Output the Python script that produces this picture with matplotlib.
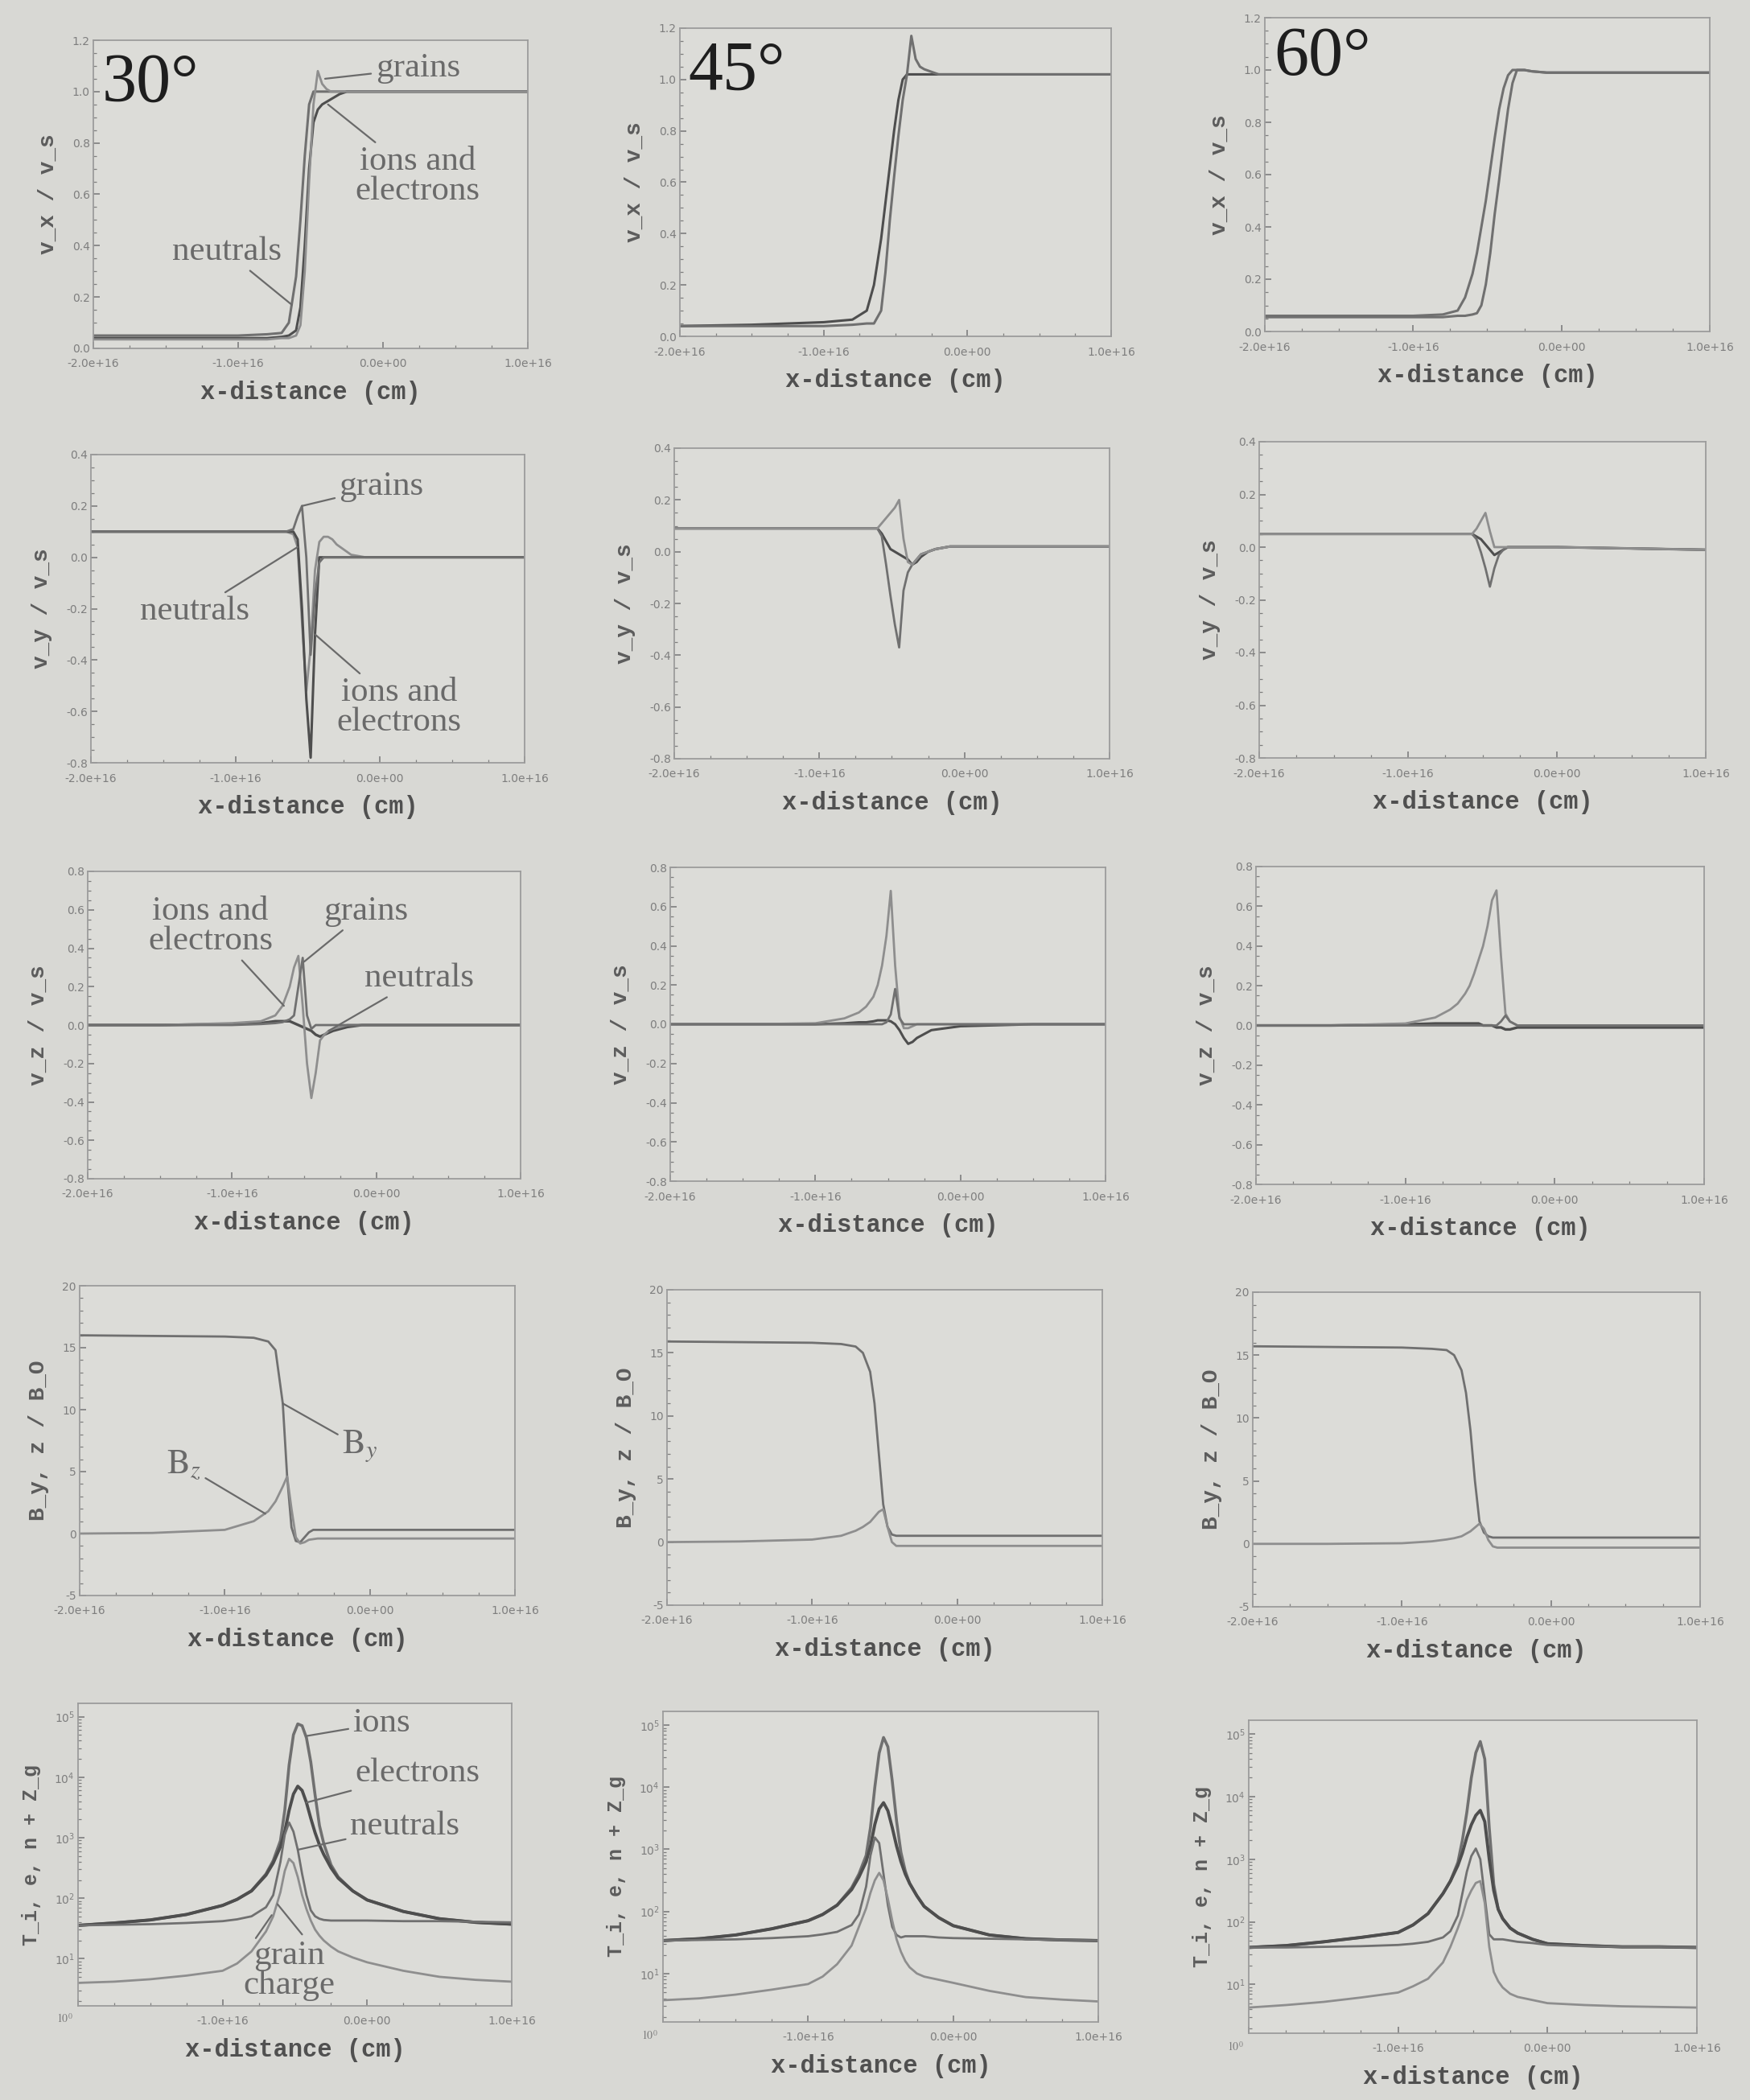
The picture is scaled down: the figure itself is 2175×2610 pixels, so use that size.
import numpy as np
import matplotlib
matplotlib.use('Agg')
import matplotlib.pyplot as plt
import matplotlib.transforms as mtransforms
from matplotlib.ticker import MultipleLocator, FixedLocator, FuncFormatter, LogLocator, NullFormatter

plt.rcParams['mathtext.fontset'] = 'stix'
plt.rcParams['axes.unicode_minus'] = False


# x positions of the sampled points, in units of 1e16 cm (rows 1-4)
x_pts = [-2.0, -1.5, -1.0, -0.8, -0.7, -0.65, -0.6, -0.57, -0.54, -0.51, -0.48, -0.45,
         -0.42, -0.39, -0.36, -0.33, -0.3, -0.25, -0.2, -0.1, 0.0, 0.5, 1.0]
# finer sampling for the log-scale bottom row
x_pts_T = [-2.0, -1.75, -1.5, -1.25, -1.0, -0.9, -0.8, -0.7, -0.65, -0.6, -0.57, -0.54, -0.51, -0.48,
           -0.45, -0.42, -0.39, -0.36, -0.33, -0.3, -0.25, -0.2, -0.1, 0.0, 0.25, 0.5, 0.75, 1.0]

angle_labels = ['30°', '45°', '60°']
x_ticks = [-2.0, -1.0, 0.0, 1.0]
y_titles = ['v_x / v_s', 'v_y / v_s', 'v_z / v_s', 'B_y, z / B_O', 'T_i, e, n + Z_g']


# ---- row 1 : v_x / v_s
vx30_neutrals = [0.05, 0.05, 0.05, 0.055, 0.06, 0.10, 0.28, 0.50, 0.75, 0.95, 1.0, 1.0, 1.0, 1.0, 1.0, 1.0, 1.0, 1.0, 1.0, 1.0, 1.0, 1.0, 1.0]
vx30_ions = [0.04, 0.04, 0.04, 0.04, 0.045, 0.05, 0.07, 0.16, 0.40, 0.70, 0.88, 0.93, 0.95, 0.96, 0.97, 0.98, 0.99, 1.0, 1.0, 1.0, 1.0, 1.0, 1.0]
vx30_grains = [0.035, 0.035, 0.035, 0.035, 0.04, 0.04, 0.05, 0.09, 0.30, 0.65, 0.95, 1.08, 1.03, 1.01, 1.0, 1.0, 1.0, 1.0, 1.0, 1.0, 1.0, 1.0, 1.0]

vx45_neutrals = [0.04, 0.045, 0.055, 0.065, 0.10, 0.20, 0.38, 0.52, 0.66, 0.80, 0.92, 1.0, 1.02, 1.02, 1.02, 1.02, 1.02, 1.02, 1.02, 1.02, 1.02, 1.02, 1.02]
vx45_charged = [0.04, 0.04, 0.04, 0.045, 0.05, 0.05, 0.10, 0.25, 0.45, 0.62, 0.78, 0.92, 1.02, 1.17, 1.08, 1.05, 1.04, 1.03, 1.02, 1.02, 1.02, 1.02, 1.02]

vx60_neutrals = [0.06, 0.06, 0.06, 0.065, 0.08, 0.13, 0.22, 0.30, 0.40, 0.50, 0.62, 0.74, 0.85, 0.93, 0.98, 1.0, 1.0, 1.0, 0.995, 0.99, 0.99, 0.99, 0.99]
vx60_charged = [0.055, 0.055, 0.055, 0.055, 0.06, 0.06, 0.065, 0.07, 0.10, 0.18, 0.30, 0.45, 0.58, 0.72, 0.85, 0.95, 1.0, 1.0, 0.995, 0.99, 0.99, 0.99, 0.99]

# ---- row 2 : v_y / v_s
vy30_neutrals = [0.10, 0.10, 0.10, 0.10, 0.10, 0.10, 0.09, 0.04, -0.25, -0.52, -0.35, -0.05, 0.06, 0.08, 0.08, 0.07, 0.05, 0.03, 0.01, 0.0, 0.0, 0.0, 0.0]
vy30_ions = [0.10, 0.10, 0.10, 0.10, 0.10, 0.10, 0.10, 0.07, -0.20, -0.55, -0.78, -0.30, 0.0, 0.0, 0.0, 0.0, 0.0, 0.0, 0.0, 0.0, 0.0, 0.0, 0.0]
vy30_grains = [0.10, 0.10, 0.10, 0.10, 0.10, 0.10, 0.11, 0.16, 0.20, 0.0, -0.38, -0.15, -0.02, 0.0, 0.0, 0.0, 0.0, 0.0, 0.0, 0.0, 0.0, 0.0, 0.0]

vy45_neutrals = [0.09, 0.09, 0.09, 0.09, 0.09, 0.09, 0.09, 0.07, 0.04, 0.01, 0.0, -0.01, -0.02, -0.03, -0.05, -0.04, -0.02, 0.0, 0.01, 0.02, 0.02, 0.02, 0.02]
vy45_ions = [0.09, 0.09, 0.09, 0.09, 0.09, 0.09, 0.09, 0.06, -0.05, -0.17, -0.28, -0.37, -0.15, -0.08, -0.05, -0.03, -0.01, 0.0, 0.01, 0.02, 0.02, 0.02, 0.02]
vy45_grains = [0.09, 0.09, 0.09, 0.09, 0.09, 0.09, 0.09, 0.11, 0.13, 0.15, 0.17, 0.20, 0.05, -0.04, -0.05, -0.03, -0.01, 0.0, 0.01, 0.02, 0.02, 0.02, 0.02]

vy60_neutrals = [0.05, 0.05, 0.05, 0.05, 0.05, 0.05, 0.05, 0.05, 0.04, 0.03, 0.01, -0.01, -0.03, -0.02, -0.01, 0.0, 0.0, 0.0, 0.0, 0.0, 0.0, -0.005, -0.01]
vy60_ions = [0.05, 0.05, 0.05, 0.05, 0.05, 0.05, 0.05, 0.05, 0.03, -0.02, -0.08, -0.15, -0.08, -0.03, -0.01, 0.0, 0.0, 0.0, 0.0, 0.0, 0.0, -0.005, -0.01]
vy60_grains = [0.05, 0.05, 0.05, 0.05, 0.05, 0.05, 0.05, 0.05, 0.07, 0.10, 0.13, 0.06, 0.0, 0.0, 0.0, 0.0, 0.0, 0.0, 0.0, 0.0, 0.0, -0.005, -0.01]

# ---- row 3 : v_z / v_s
vz30_ions = [0.0, 0.0, 0.01, 0.02, 0.05, 0.10, 0.20, 0.30, 0.36, 0.10, -0.20, -0.38, -0.25, -0.08, -0.05, -0.03, -0.02, -0.01, 0.0, 0.0, 0.0, 0.0, 0.0]
vz30_grains = [0.0, 0.0, 0.0, 0.005, 0.01, 0.015, 0.03, 0.05, 0.20, 0.35, 0.05, -0.02, 0.0, 0.0, 0.0, 0.0, 0.0, 0.0, 0.0, 0.0, 0.0, 0.0, 0.0]
vz30_neutrals = [0.0, 0.0, 0.005, 0.01, 0.02, 0.02, 0.02, 0.01, 0.0, -0.01, -0.02, -0.03, -0.05, -0.06, -0.05, -0.04, -0.03, -0.02, -0.01, 0.0, 0.0, 0.0, 0.0]

vz45_ions = [0.0, 0.0, 0.005, 0.03, 0.06, 0.09, 0.14, 0.20, 0.30, 0.45, 0.68, 0.30, 0.04, -0.02, -0.02, -0.01, 0.0, 0.0, 0.0, 0.0, 0.0, 0.0, 0.0]
vz45_grains = [0.0, 0.0, 0.0, 0.0, 0.0, 0.0, 0.0, 0.0, 0.0, 0.01, 0.05, 0.18, 0.03, 0.0, 0.0, 0.0, 0.0, 0.0, 0.0, 0.0, 0.0, 0.0, 0.0]
vz45_neutrals = [0.0, 0.0, 0.0, 0.005, 0.01, 0.01, 0.015, 0.02, 0.02, 0.02, 0.015, 0.0, -0.03, -0.07, -0.10, -0.09, -0.07, -0.05, -0.03, -0.02, -0.01, 0.0, 0.0]

vz60_ions = [0.0, 0.0, 0.01, 0.04, 0.08, 0.11, 0.16, 0.20, 0.26, 0.33, 0.40, 0.50, 0.63, 0.68, 0.35, 0.06, 0.02, 0.0, 0.0, 0.0, 0.0, 0.0, 0.0]
vz60_grains = [0.0, 0.0, 0.0, 0.0, 0.0, 0.0, 0.0, 0.0, 0.0, 0.0, 0.0, 0.0, 0.0, 0.0, 0.02, 0.05, 0.02, 0.0, 0.0, 0.0, 0.0, 0.0, 0.0]
vz60_neutrals = [0.0, 0.0, 0.005, 0.01, 0.01, 0.01, 0.01, 0.01, 0.01, 0.01, 0.0, 0.0, 0.0, -0.01, -0.01, -0.02, -0.02, -0.01, -0.01, -0.01, -0.01, -0.01, -0.01]

# ---- row 4 : B_y, B_z / B_0
B30_y = [16.0, 15.95, 15.9, 15.8, 15.5, 14.8, 10.5, 4.6, 0.5, -0.6, -0.7, -0.3, 0.1, 0.3, 0.3, 0.3, 0.3, 0.3, 0.3, 0.3, 0.3, 0.3, 0.3]
B30_z = [0.0, 0.05, 0.3, 1.0, 1.8, 2.6, 3.8, 4.6, 2.0, -0.3, -0.8, -0.7, -0.5, -0.45, -0.4, -0.4, -0.4, -0.4, -0.4, -0.4, -0.4, -0.4, -0.4]

B45_y = [15.9, 15.85, 15.8, 15.7, 15.5, 15.0, 13.5, 11.0, 7.0, 3.0, 1.2, 0.6, 0.5, 0.5, 0.5, 0.5, 0.5, 0.5, 0.5, 0.5, 0.5, 0.5, 0.5]
B45_z = [0.0, 0.05, 0.2, 0.5, 0.9, 1.2, 1.6, 2.0, 2.4, 2.6, 1.2, 0.0, -0.3, -0.3, -0.3, -0.3, -0.3, -0.3, -0.3, -0.3, -0.3, -0.3, -0.3]

B60_y = [15.7, 15.65, 15.6, 15.5, 15.4, 15.0, 13.8, 12.0, 9.0, 5.0, 1.8, 0.9, 0.6, 0.5, 0.5, 0.5, 0.5, 0.5, 0.5, 0.5, 0.5, 0.5, 0.5]
B60_z = [0.0, 0.0, 0.05, 0.2, 0.35, 0.45, 0.6, 0.8, 1.0, 1.3, 1.6, 1.2, 0.3, -0.2, -0.3, -0.3, -0.3, -0.3, -0.3, -0.3, -0.3, -0.3, -0.3]

# ---- row 5 : temperatures and grain charge, given as log10 of the value (on x_pts_T)
T30_ions = [1.55, 1.59, 1.64, 1.73, 1.88, 1.98, 2.12, 2.4, 2.62, 2.95, 3.45, 4.2, 4.7, 4.88, 4.85, 4.65, 4.25, 3.7, 3.2, 2.9, 2.55, 2.35, 2.12, 1.97, 1.78, 1.66, 1.6, 1.57]
T30_electrons = [1.55, 1.59, 1.64, 1.73, 1.88, 1.98, 2.12, 2.38, 2.58, 2.85, 3.1, 3.45, 3.72, 3.85, 3.78, 3.58, 3.32, 3.08, 2.88, 2.72, 2.5, 2.33, 2.12, 1.97, 1.78, 1.66, 1.6, 1.57]
T30_neutrals = [1.55, 1.56, 1.57, 1.59, 1.62, 1.65, 1.7, 1.85, 2.05, 2.6, 3.05, 3.25, 3.1, 2.8, 2.4, 2.05, 1.8, 1.7, 1.66, 1.64, 1.63, 1.63, 1.63, 1.63, 1.62, 1.62, 1.61, 1.6]
Zg30 = [0.6, 0.62, 0.66, 0.72, 0.8, 0.92, 1.12, 1.45, 1.7, 2.1, 2.45, 2.65, 2.58, 2.35, 2.05, 1.82, 1.63, 1.48, 1.38, 1.3, 1.2, 1.12, 1.02, 0.94, 0.8, 0.7, 0.65, 0.62]

T45_ions = [1.53, 1.56, 1.62, 1.72, 1.85, 1.95, 2.1, 2.38, 2.6, 2.9, 3.35, 4.0, 4.55, 4.8, 4.65, 4.1, 3.45, 2.95, 2.65, 2.45, 2.25, 2.08, 1.9, 1.77, 1.62, 1.56, 1.54, 1.53]
T45_electrons = [1.53, 1.56, 1.62, 1.72, 1.85, 1.95, 2.1, 2.35, 2.55, 2.8, 3.05, 3.4, 3.65, 3.75, 3.62, 3.35, 3.05, 2.8, 2.6, 2.45, 2.25, 2.08, 1.9, 1.77, 1.62, 1.56, 1.54, 1.53]
T45_neutrals = [1.53, 1.54, 1.55, 1.57, 1.6, 1.63, 1.67, 1.78, 1.95, 2.4, 2.9, 3.19, 3.1, 2.6, 2.1, 1.75, 1.62, 1.58, 1.6, 1.6, 1.6, 1.6, 1.58, 1.57, 1.56, 1.55, 1.54, 1.53]
Zg45 = [0.57, 0.6, 0.66, 0.74, 0.83, 0.95, 1.15, 1.45, 1.75, 2.05, 2.3, 2.5, 2.62, 2.5, 2.2, 1.85, 1.55, 1.35, 1.2, 1.1, 1.0, 0.95, 0.9, 0.85, 0.72, 0.62, 0.58, 0.55]

T60_ions = [1.59, 1.62, 1.68, 1.75, 1.83, 1.95, 2.13, 2.45, 2.65, 2.95, 3.3, 3.75, 4.3, 4.7, 4.88, 4.6, 3.5, 2.6, 2.2, 2.05, 1.9, 1.82, 1.72, 1.65, 1.62, 1.6, 1.6, 1.59]
T60_electrons = [1.59, 1.62, 1.68, 1.75, 1.83, 1.95, 2.13, 2.45, 2.65, 2.9, 3.1, 3.35, 3.55, 3.7, 3.78, 3.6, 3.0, 2.5, 2.2, 2.05, 1.9, 1.82, 1.72, 1.65, 1.62, 1.6, 1.6, 1.59]
T60_neutrals = [1.59, 1.59, 1.6, 1.61, 1.63, 1.65, 1.68, 1.75, 1.85, 2.1, 2.45, 2.8, 3.05, 3.17, 3.0, 2.4, 1.8, 1.72, 1.72, 1.72, 1.7, 1.68, 1.66, 1.63, 1.61, 1.6, 1.6, 1.59]
Zg60 = [0.63, 0.67, 0.72, 0.79, 0.87, 0.97, 1.09, 1.35, 1.6, 1.9, 2.1, 2.35, 2.5, 2.62, 2.65, 2.3, 1.6, 1.2, 1.05, 0.95, 0.85, 0.8, 0.75, 0.7, 0.67, 0.65, 0.64, 0.63]


# colours of the scanned page
bg = '#d8d8d4'
bg_ax = '#dcdcd8'
c_dark = '#4e4e4e'
c_mid = '#707070'
c_light = '#8e8e8e'
ann_col = '#6a6a6a'
tick_col = '#7e7e7e'

# which curves go into which panel: (values, colour, width)
curves = {
    (0, 0): [(vx30_neutrals, c_mid, 2.2), (vx30_ions, c_dark, 2.2), (vx30_grains, c_light, 2.0)],
    (0, 1): [(vx45_neutrals, c_dark, 2.2), (vx45_charged, c_mid, 2.2)],
    (0, 2): [(vx60_neutrals, c_mid, 2.2), (vx60_charged, c_mid, 2.2)],
    (1, 0): [(vy30_neutrals, c_light, 2.0), (vy30_ions, c_dark, 2.2), (vy30_grains, c_mid, 2.0)],
    (1, 1): [(vy45_neutrals, c_dark, 2.2), (vy45_ions, c_mid, 2.0), (vy45_grains, c_light, 2.0)],
    (1, 2): [(vy60_neutrals, c_dark, 2.2), (vy60_ions, c_mid, 2.0), (vy60_grains, c_light, 2.0)],
    (2, 0): [(vz30_neutrals, c_dark, 2.4), (vz30_ions, c_light, 2.0), (vz30_grains, c_mid, 2.0)],
    (2, 1): [(vz45_neutrals, c_dark, 2.2), (vz45_ions, c_light, 2.0), (vz45_grains, c_mid, 2.0)],
    (2, 2): [(vz60_neutrals, c_dark, 2.4), (vz60_ions, c_light, 2.0), (vz60_grains, c_mid, 2.0)],
    (3, 0): [(B30_y, c_mid, 2.0), (B30_z, c_light, 2.0)],
    (3, 1): [(B45_y, c_mid, 2.0), (B45_z, c_light, 2.0)],
    (3, 2): [(B60_y, c_mid, 2.0), (B60_z, c_light, 2.0)],
    (4, 0): [(T30_ions, c_mid, 2.6), (T30_electrons, c_dark, 2.8), (T30_neutrals, c_mid, 2.0), (Zg30, c_light, 2.0)],
    (4, 1): [(T45_ions, c_mid, 2.6), (T45_electrons, c_dark, 2.8), (T45_neutrals, c_mid, 2.0), (Zg45, c_light, 2.0)],
    (4, 2): [(T60_ions, c_mid, 2.6), (T60_electrons, c_dark, 2.8), (T60_neutrals, c_mid, 2.0), (Zg60, c_light, 2.0)],
}

# curve labels of the 30 degree column: text, text centre, leader tip
labels30 = {
    0: [('grains', (0.24, 1.09), (-0.40, 1.05)),
        ('ions and\nelectrons', (0.24, 0.67), (-0.38, 0.95)),
        ('neutrals', (-1.08, 0.377), (-0.63, 0.17))],
    1: [('grains', (0.01, 0.274), (-0.54, 0.2)),
        ('neutrals', (-1.28, -0.21), (-0.57, 0.04)),
        ('ions and\nelectrons', (0.13, -0.585), (-0.45, -0.3))],
    2: [('ions and\nelectrons', (-1.15, 0.515), (-0.64, 0.1)),
        ('grains', (-0.07, 0.593), (-0.5, 0.33)),
        ('neutrals', (0.3, 0.243), (-0.33, -0.03))],
    3: [(r'$\mathrm{B}_y$', (-0.07, 7.0), (-0.6, 10.5)),
        (r'$\mathrm{B}_z$', (-1.28, 5.5), (-0.72, 1.6))],
    4: [('ions', (0.1, 4.89), (-0.42, 4.68)),
        ('electrons', (0.35, 4.07), (-0.42, 3.58)),
        ('neutrals', (0.26, 3.19), (-0.48, 2.8))],
}

# axes boxes on the page in pixels: left, top, right, bottom
W, H = 2175, 2610
panel_boxes = [
    [(116, 50, 656, 433), (845, 35, 1381, 418), (1572, 22, 2125, 412)],
    [(113, 565, 652, 948), (838, 557, 1379, 943), (1565, 549, 2120, 942)],
    [(109, 1083, 647, 1465), (833, 1078, 1374, 1468), (1561, 1077, 2118, 1472)],
    [(99, 1598, 640, 1983), (829, 1603, 1370, 1995), (1557, 1606, 2113, 1997)],
    [(97, 2117, 636, 2493), (824, 2127, 1365, 2513), (1552, 2138, 2109, 2527)],
]
angle_y = [0.96, 0.96, 0.975]

ylims = [(0, 1.2), (-0.8, 0.4), (-0.8, 0.8), (-5, 20), (10 ** 0.22, 10 ** 5.22)]
ysteps = [0.2, 0.2, 0.2, 5, None]
yminor = [0.05, 0.05, 0.05, 1, None]

xfmt = FuncFormatter(lambda v, p: '%.1e' % (v * 1e16))
xfmt_log = FuncFormatter(lambda v, p: '' if v < -1.5 else '%.1e' % (v * 1e16))
vfmt = FuncFormatter(lambda v, p: '%.1f' % (round(v, 1) + 0.0))
bfmt = FuncFormatter(lambda v, p: '%d' % round(v))

fig = plt.figure(figsize=(W / 100, H / 100), dpi=100, facecolor=bg)

for r in range(5):
    for c in range(3):
        l, t, rr, b = panel_boxes[r][c]
        ax = fig.add_axes([l / W, 1 - b / H, (rr - l) / W, (b - t) / H])
        ax.set_facecolor(bg_ax)

        for vals, col, lw in curves[(r, c)]:
            y = np.array(vals)
            xs = x_pts
            if r == 4:
                y = 10 ** y
                xs = x_pts_T
            ax.plot(xs, y, color=col, lw=lw, solid_joinstyle='round')

        ax.set_xlim(-2, 1)
        ax.set_ylim(*ylims[r])
        ax.xaxis.set_major_locator(FixedLocator(x_ticks))
        ax.xaxis.set_minor_locator(MultipleLocator(0.25))
        if r == 4:
            ax.set_yscale('log')
            ax.yaxis.set_major_locator(LogLocator(base=10, numticks=10))
            ax.yaxis.set_minor_formatter(NullFormatter())
            ax.xaxis.set_major_formatter(xfmt_log)
            # lowest decade label sits just under the frame
            trans = mtransforms.blended_transform_factory(ax.transAxes, ax.transData)
            ax.text(-0.012, 1.0, r'$10^{0}$', transform=trans, ha='right', va='center',
                    fontsize=10, color=tick_col, clip_on=False)
        else:
            ax.yaxis.set_major_locator(MultipleLocator(ysteps[r]))
            ax.yaxis.set_minor_locator(MultipleLocator(yminor[r]))
            ax.yaxis.set_major_formatter(bfmt if r == 3 else vfmt)
            ax.xaxis.set_major_formatter(xfmt)

        ax.tick_params(which='both', direction='in', colors=tick_col, labelsize=10)
        ax.tick_params(which='major', length=6, width=1.2)
        ax.tick_params(which='minor', length=3, width=0.9)
        ax.tick_params(axis='x', pad=9)
        ax.tick_params(axis='y', pad=3)
        for sp in ax.spines.values():
            sp.set_color('#9c9c9c')
            sp.set_linewidth(1.3)

        ax.set_xlabel('x-distance (cm)', fontsize=22, fontweight='bold', family='Liberation Mono',
                      color='#505050', labelpad=10)
        ax.set_ylabel(y_titles[r], fontsize=18 if r == 4 else 20, fontweight='bold',
                      family='Liberation Mono', color='#5c5c5c', labelpad=12)

        if r == 0:
            ax.text(0.02, angle_y[c], angle_labels[c], transform=ax.transAxes, fontsize=62,
                    family='Liberation Serif', color='#1e1e1e', ha='left', va='top')

        # curve labels with leader lines, only in the 30 degree column
        if c == 0:
            for txt, (tx, ty), (px, py) in labels30[r]:
                if r == 4:
                    ty, py = 10 ** ty, 10 ** py
                ax.annotate(txt, xy=(px, py), xytext=(tx, ty), ha='center', va='center',
                            fontsize=31, family='Liberation Serif', color=ann_col, linespacing=0.95,
                            arrowprops=dict(arrowstyle='-', color=ann_col, lw=1.6,
                                            shrinkA=2, shrinkB=0))
            if r == 4:
                ax.annotate('grain\ncharge', xy=(-0.66, 10 ** 1.72), xytext=(-0.54, 10 ** 0.8),
                            ha='center', va='center', fontsize=31, family='Liberation Serif',
                            color=ann_col, linespacing=0.95,
                            arrowprops=dict(arrowstyle='-', color=ann_col, lw=1.6,
                                            relpos=(0.12, 1.0), shrinkA=0, shrinkB=0))
                ax.annotate('', xy=(-0.62, 10 ** 1.9), xytext=(-0.45, 10 ** 1.4),
                            arrowprops=dict(arrowstyle='-', color=ann_col, lw=1.6,
                                            shrinkA=0, shrinkB=0))

fig.savefig('out.png', dpi=100, facecolor=bg)
